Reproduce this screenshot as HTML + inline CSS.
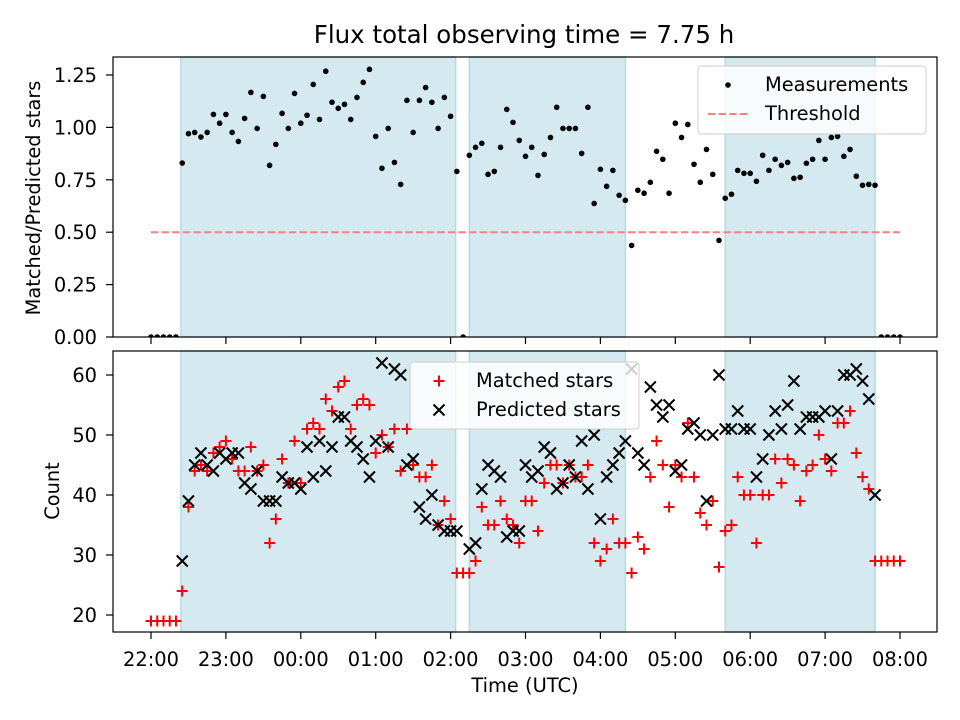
<!DOCTYPE html>
<html><head><meta charset="utf-8"><style>
body{margin:0;background:#fff}
svg{display:block;font-family:"DejaVu Sans","Liberation Sans",sans-serif}
</style></head><body>
<svg id="chart" width="960" height="720" viewBox="0 0 960 720" xmlns="http://www.w3.org/2000/svg">
<rect width="960" height="720" fill="#fff"/>
<text x="524" y="43" font-size="24.5" text-anchor="middle">Flux total observing time = 7.75 h</text>
<g id="topPanel"></g>
<g id="botPanel"></g>
</svg>
<script>
const ratios=[0,0,0,0,0,0.83,0.97,0.976,0.954,0.976,1.062,1.02,1.062,0.976,0.933,1.043,1.167,0.995,1.148,0.819,0.919,1.067,0.995,1.162,1.02,1.058,1.205,1.038,1.268,1.12,1.091,1.11,1.038,1.143,1.215,1.277,0.957,0.805,0.995,0.833,0.728,1.129,0.976,1.129,1.19,1.12,0.995,1.143,1.053,0.79,0,
0.867,0.905,0.924,0.776,0.79,0.905,1.086,1.024,0.938,0.862,0.905,0.771,0.871,0.952,1.096,0.995,0.995,0.995,0.876,1.096,0.637,0.8,0.719,0.795,0.676,0.652,0.437,0.7,0.686,0.738,0.886,0.848,0.686,1.02,0.952,1.014,0.824,0.738,0.895,0.776,0.461,0.662,0.681,0.795,0.781,0.781,0.743,0.867,0.795,0.848,0.819,0.833,0.757,0.762,0.829,0.848,0.938,0.848,0.952,0.957,0.862,0.895,0.767,0.724,0.728,0.724,0,0,0,0];
const predicted=[null,null,null,null,null,29,39,45,47,45,44,47,46,47,47,42,41,44,39,39,39,43,42,42,41,48,43,49,44,48,53,53,49,48,46,43,49,62,48,61,60,45,46,38,36,40,35,34,34,34,null,
31,32,41,45,44,43,33,34,34,45,43,44,48,47,41,42,45,43,49,41,50,36,43,45,47,49,61,47,45,58,55,53,55,44,45,51,52,50,39,50,60,51,51,54,51,51,43,46,50,54,51,55,59,51,53,53,53,54,46,54,60,60,61,59,56,40,null,null,null,null];
const matched=[19,19,19,19,19,24,38,44,45,44,47,48,49,46,44,44,48,44,45,32,36,46,42,49,42,51,52,51,56,54,58,59,51,55,56,55,47,50,48,51,44,51,45,43,43,45,35,39,36,27,27,
27,29,38,35,35,39,36,35,32,39,39,34,42,45,45,42,45,43,43,45,32,29,31,36,32,32,27,33,31,43,49,45,38,45,43,52,43,37,35,39,28,34,35,43,40,40,32,40,40,46,42,46,45,39,44,45,50,46,44,52,52,54,47,43,41,29,29,29,29,29];
const stepMinutes=5;
const spans=[[24,244],[255,380],[460,580]];
const threshold=0.5;
const xTickLabels=["22:00","23:00","00:00","01:00","02:00","03:00","04:00","05:00","06:00","07:00","08:00"];
const topTicks=[0,0.25,0.5,0.75,1.0,1.25];
const botTicks=[20,30,40,50,60];

const NS="http://www.w3.org/2000/svg";
function mk(tag,attrs,parent){const e=document.createElementNS(NS,tag);for(const k in attrs)e.setAttribute(k,attrs[k]);parent.appendChild(e);return e;}
const X0=113,X1=937;
const xs=m=>151+74.9*m/60;
const PT={y0:57,y1:337}, PB={y0:351,y1:632};
const yTop=v=>337-209.6*v;
const yBot=v=>615-6*(v-20);
const gTop=document.getElementById('topPanel'), gBot=document.getElementById('botPanel');

function panel(g,P,ys,ticks,fmt,showXLabels,name){
  const clip=mk('clipPath',{id:'c'+name},g);mk('rect',{x:X0,y:P.y0,width:X1-X0,height:P.y1-P.y0},clip);
  spans.forEach((s,k)=>{const r=mk('rect',{x:xs(s[0]),y:P.y0,width:xs(s[1])-xs(s[0]),height:P.y1-P.y0,fill:'#d4eaf0',stroke:'#b5dbe6','stroke-width':1.5},g);
    
    });
  ticks.forEach(t=>{const y=ys(t);mk('line',{x1:X0-7,x2:X0,y1:y,y2:y,stroke:'#000','stroke-width':1.2},g);
    const tx=mk('text',{x:X0-16,y:y+7,'font-size':19.4,'text-anchor':'end'},g);tx.textContent=fmt(t);
    
    });
  xTickLabels.forEach((l,k)=>{const x=xs(k*60);mk('line',{x1:x,x2:x,y1:P.y1,y2:P.y1+7,stroke:'#000','stroke-width':1.2},g);
    if(showXLabels){const tx=mk('text',{x:x,y:P.y1+34,'font-size':19.4,'text-anchor':'middle'},g);tx.textContent=l;
    
    }});
  const inner=mk('g',{'clip-path':'url(#c'+name+')'},g);
  return inner;
}
const ti=panel(gTop,PT,yTop,topTicks,t=>t.toFixed(2),false,'top');
const th=mk('line',{x1:xs(0),x2:xs(600),y1:yTop(threshold),y2:yTop(threshold),stroke:'#ff7f7f','stroke-width':2,'stroke-dasharray':'7.4,3.2'},ti);


ratios.forEach((v,i)=>{const c=mk('circle',{cx:xs(i*stepMinutes),cy:yTop(v),r:2.8,fill:'#000'},ti);
  
  });
mk('rect',{x:X0,y:PT.y0,width:X1-X0,height:PT.y1-PT.y0,fill:'none',stroke:'#000','stroke-width':1.2},gTop);
const bi=panel(gBot,PB,yBot,botTicks,t=>String(t),true,'bot');
function plus(g,x,y){return mk('path',{d:`M${x-5.5},${y}H${x+5.5}M${x},${y-5.5}V${y+5.5}`,stroke:'#f00','stroke-width':2,fill:'none'},g);}
function cross(g,x,y){return mk('path',{d:`M${x-5.5},${y-5.5}L${x+5.5},${y+5.5}M${x-5.5},${y+5.5}L${x+5.5},${y-5.5}`,stroke:'#000','stroke-width':2,fill:'none'},g);}
matched.forEach((v,i)=>{if(v==null)return;const p=plus(bi,xs(i*stepMinutes),yBot(v));
  
  });
predicted.forEach((v,i)=>{if(v==null)return;const p=cross(bi,xs(i*stepMinutes),yBot(v));
  
  });
mk('rect',{x:X0,y:PB.y0,width:X1-X0,height:PB.y1-PB.y0,fill:'none',stroke:'#000','stroke-width':1.2},gBot);
</script>
<svg style="position:absolute;left:0;top:0" width="960" height="720" font-family="DejaVu Sans, Liberation Sans, sans-serif">
<text transform="translate(40,198) rotate(-90)" font-size="19.4" text-anchor="middle">Matched/Predicted stars</text>
<text transform="translate(59,491) rotate(-90)" font-size="19.4" text-anchor="middle">Count</text>
<text x="525" y="692" font-size="19.4" text-anchor="middle">Time (UTC)</text>
<g font-size="19.4">
<rect x="698" y="66" width="228" height="68" rx="3" fill="#fff" fill-opacity="0.8" stroke="#ccc"/>
<circle cx="728" cy="85" r="2.8" fill="#000"/>
<text x="765" y="91">Measurements</text>
<line x1="708" x2="748" y1="114" y2="114" stroke="#ff7f7f" stroke-width="2" stroke-dasharray="7.4,3.2"/>
<text x="765" y="120">Threshold</text>
</g>
<g font-size="19.4">
<rect x="410" y="362" width="229" height="67" rx="3" fill="#fff" fill-opacity="0.8" stroke="#ccc"/>
<path d="M433.5,381H444.5M439,375.5V386.5" stroke="#f00" stroke-width="2"/>
<text x="476" y="387">Matched stars</text>
<path d="M433.5,404.5L444.5,415.5M433.5,415.5L444.5,404.5" stroke="#000" stroke-width="2"/>
<text x="476" y="416">Predicted stars</text>
</g>
</svg>
</body></html>
